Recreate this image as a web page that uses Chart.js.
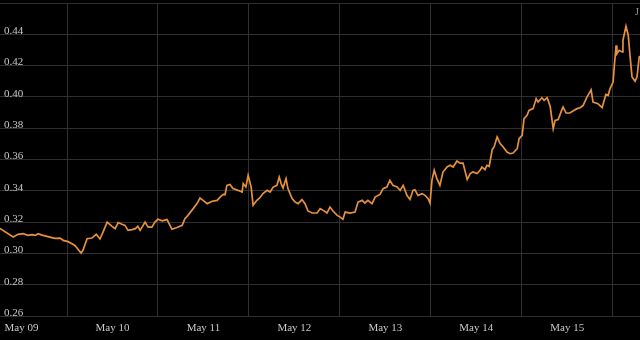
<!DOCTYPE html>
<html>
<head>
<meta charset="utf-8">
<script src="https://cdn.jsdelivr.net/npm/chart.js@4.4.1/dist/chart.umd.min.js"></script>
<style>
  html, body { margin: 0; padding: 0; background: #000; }
  #c { display: block; }
</style>
</head>
<body>
<canvas id="c" width="640" height="340"></canvas>
<script>
// Hours since May 09 00:00
const hours = [6.3,6.8,9.8,11.1,12.4,13.7,14.8,15.6,16.4,17.4,18.7,20.0,20.8,22.2,23.0,24.3,25.3,26.1,26.9,27.7,28.2,29.3,30.6,31.7,32.7,33.5,34.6,35.9,36.7,37.5,38.5,39.3,40.1,41.2,42.0,42.7,43.3,44.6,45.4,46.4,47.2,48.0,49.1,50.4,51.7,53.0,54.4,55.1,55.9,57.3,58.3,59.1,59.9,61.0,62.3,63.6,64.4,65.2,65.7,66.2,67.0,67.8,69.1,70.2,70.5,71.2,71.8,72.6,73.1,74.1,74.9,75.7,76.8,77.6,78.4,79.4,80.0,80.5,81.0,81.8,82.3,83.4,84.2,85.0,86.0,86.8,87.6,88.7,90.0,90.8,91.6,92.6,93.4,94.2,95.3,96.1,96.8,97.4,98.7,100.0,100.8,101.9,102.6,103.4,104.5,105.3,106.6,107.4,108.4,109.2,110.0,111.1,111.9,112.7,113.7,114.5,115.3,115.8,116.6,117.7,118.5,119.3,119.8,120.3,120.9,121.6,122.4,123.2,124.3,125.1,125.9,126.9,127.7,128.5,129.6,130.4,131.1,132.2,133.0,133.5,134.3,134.8,135.4,136.2,136.7,137.5,138.3,139.1,140.1,140.9,141.7,142.8,143.3,144.1,144.6,145.4,145.9,147.0,147.8,148.3,149.3,149.9,150.7,151.5,152.0,152.3,152.8,153.6,154.6,154.9,155.7,156.7,157.5,158.6,159.4,160.2,161.2,162.3,162.8,164.1,165.2,166.2,166.8,167.3,168.1,168.4,168.9,169.1,169.7,170.5,170.7,171.5,172.1,172.6,173.1,173.9,174.4,175.0,175.2];
const price = [0.3160,0.3152,0.3105,0.3122,0.3126,0.3115,0.3120,0.3115,0.3126,0.3117,0.3109,0.3101,0.3096,0.3098,0.3083,0.3075,0.3062,0.3051,0.3026,0.3002,0.3020,0.3094,0.3098,0.3122,0.3092,0.3136,0.3200,0.3173,0.3158,0.3197,0.3186,0.3179,0.3147,0.3152,0.3158,0.3173,0.3147,0.3200,0.3168,0.3168,0.3200,0.3218,0.3208,0.3216,0.3154,0.3165,0.3179,0.3222,0.3243,0.3286,0.3318,0.3354,0.3339,0.3318,0.3333,0.3339,0.3360,0.3377,0.3375,0.3435,0.3441,0.3414,0.3403,0.3392,0.3446,0.3424,0.3499,0.3424,0.3307,0.3339,0.3356,0.3382,0.3403,0.3392,0.3424,0.3435,0.3488,0.3446,0.3418,0.3478,0.3414,0.3350,0.3328,0.3318,0.3344,0.3318,0.3271,0.3258,0.3258,0.3286,0.3275,0.3258,0.3296,0.3271,0.3243,0.3232,0.3218,0.3264,0.3258,0.3264,0.3328,0.3339,0.3322,0.3339,0.3318,0.3360,0.3377,0.3414,0.3424,0.3467,0.3435,0.3424,0.3403,0.3435,0.3371,0.3345,0.3403,0.3407,0.3371,0.3382,0.3371,0.3350,0.3322,0.3467,0.3531,0.3478,0.3435,0.3520,0.3552,0.3563,0.3552,0.3590,0.3577,0.3577,0.3473,0.3510,0.3520,0.3510,0.3531,0.3552,0.3535,0.3563,0.3556,0.3663,0.3680,0.3744,0.3702,0.3680,0.3648,0.3637,0.3641,0.3669,0.3733,0.3754,0.3861,0.3882,0.3914,0.3925,0.3989,0.3967,0.3995,0.3978,0.3995,0.3940,0.3850,0.3797,0.3850,0.3855,0.3919,0.3935,0.3897,0.3897,0.3910,0.3925,0.3931,0.3946,0.3999,0.4046,0.3967,0.3957,0.3931,0.4016,0.4010,0.4053,0.4095,0.4191,0.4329,0.4276,0.4298,0.4287,0.4362,0.4451,0.4394,0.4255,0.4127,0.4100,0.4127,0.4255,0.4260];
// Day labels, placed at noon of each day
const dayLabels = ["May 09","May 10","May 11","May 12","May 13","May 14","May 15"];
const dayNoon = [12,36,60,84,108,132,156];
const yTicks = [0.26,0.28,0.30,0.32,0.34,0.36,0.38,0.40,0.42,0.44,0.46];
const xMin = 6.32, xMax = 175.2;

const FONT = { family: "'Liberation Serif', 'Times New Roman', serif", size: 11 };
const LABEL_COLOR = '#c8c8c8';
const GRID_COLOR = '#303030';

const cornerText = {
  id: 'cornerText',
  afterDraw(chart) {
    const ctx = chart.ctx;
    ctx.save();
    ctx.font = "10px 'Liberation Serif', serif";
    ctx.fillStyle = '#9a9a9a';
    ctx.textAlign = 'left';
    ctx.textBaseline = 'alphabetic';
    ctx.fillText('J', 635, 15);
    ctx.restore();
  }
};

const bgPlugin = {
  id: 'bg',
  beforeDraw(chart) {
    const ctx = chart.ctx;
    ctx.save();
    ctx.fillStyle = '#000';
    ctx.fillRect(0, 0, chart.width, chart.height);
    ctx.restore();
  }
};

new Chart(document.getElementById('c'), {
  type: 'line',
  data: {
    datasets: [{
      data: hours.map((h, i) => ({ x: h, y: price[i] })),
      borderColor: '#e6913f',
      borderWidth: 1.7,
      pointRadius: 0,
      tension: 0,
      fill: false
    }]
  },
  options: {
    responsive: false,
    animation: false,
    devicePixelRatio: 1,
    layout: { padding: { top: 3, left: 0, right: 0, bottom: 0 } },
    plugins: { legend: { display: false }, tooltip: { enabled: false } },
    scales: {
      x: {
        type: 'linear',
        min: xMin,
        max: xMax,
        afterBuildTicks: (axis) => { axis.ticks = dayNoon.map(v => ({ value: v })); },
        afterFit: (axis) => { axis.height = 24; axis.paddingLeft = 0; axis.paddingRight = 0; },
        grid: { color: GRID_COLOR, drawTicks: false, offset: true, lineWidth: 1 },
        border: { display: false },
        ticks: {
          autoSkip: false,
          maxRotation: 0,
          padding: 6,
          color: LABEL_COLOR,
          font: FONT,
          callback: (v) => { const i = dayNoon.indexOf(v); return i >= 0 ? dayLabels[i] : ''; }
        }
      },
      y: {
        min: 0.26,
        max: 0.46,
        afterBuildTicks: (axis) => { axis.ticks = yTicks.map(v => ({ value: v })); },
        afterFit: (axis) => { axis.width = 0; axis.paddingTop = 0; axis.paddingBottom = 0; },
        grid: { color: GRID_COLOR, drawTicks: false, lineWidth: 1 },
        border: { display: false },
        ticks: {
          mirror: true,
          padding: 4,
          labelOffset: -3,
          color: LABEL_COLOR,
          font: FONT,
          callback: (v) => (Math.abs(v - 0.46) < 1e-6 ? '' : v.toFixed(2))
        }
      }
    }
  },
  plugins: [bgPlugin, cornerText]
});
</script>
</body>
</html>
